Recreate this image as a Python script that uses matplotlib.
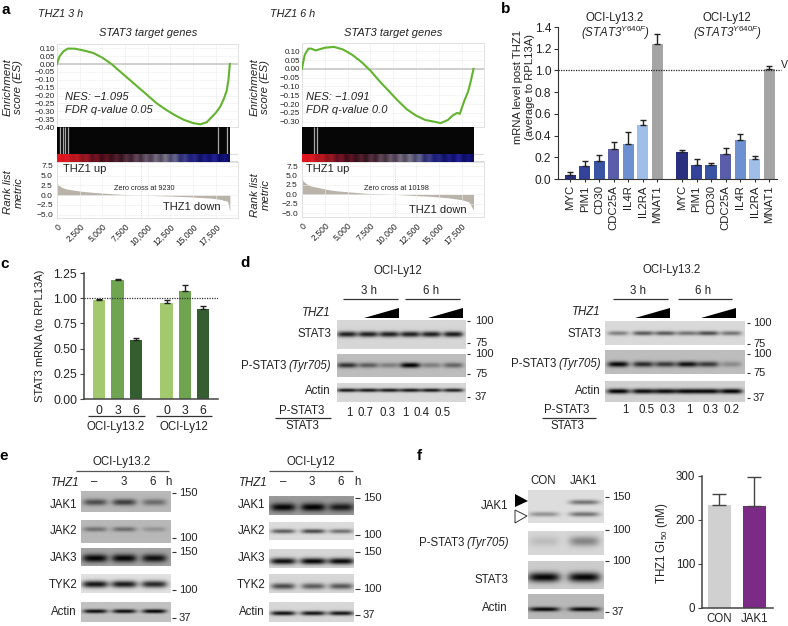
import numpy as np
import matplotlib
matplotlib.use("Agg")
import matplotlib.pyplot as plt
from matplotlib.colors import LinearSegmentedColormap
from matplotlib.patches import Polygon

plt.rcParams['font.family'] = ['Liberation Sans', 'DejaVu Sans']
plt.rcParams['mathtext.fontset'] = 'custom'
plt.rcParams['mathtext.rm'] = 'Liberation Sans'
plt.rcParams['mathtext.it'] = 'Liberation Sans:italic'
plt.rcParams['mathtext.bf'] = 'Liberation Sans:bold'

W, H = 788, 626
TXT = '#222222'
FS = 8.3

# panel a, enrichment curves
es_x_3h = [0, 100, 300, 700, 1200, 2000, 3000, 4000, 5000, 6000, 7000, 8000, 9000, 10000, 11000,
           12000, 13000, 14000, 15000, 15800, 16500, 17000, 17500, 18000, 18400, 18700, 18900, 19050]
es_y_3h = [0.0, 0.02, 0.05, 0.08, 0.098, 0.097, 0.085, 0.07, 0.04, 0.0, -0.05, -0.10, -0.15, -0.20, -0.25,
           -0.29, -0.325, -0.355, -0.375, -0.383, -0.37, -0.34, -0.31, -0.27, -0.22, -0.17, -0.10, 0.0]
es_x_6h = [0, 100, 300, 700, 1000, 1500, 2500, 3500, 4500, 5500, 6500, 7500, 8500, 9500, 10500,
           11500, 12500, 13500, 14500, 15200, 16000, 16500, 17000, 17300, 17800, 18200, 18500, 18800]
es_y_6h = [0.0, 0.03, 0.08, 0.115, 0.115, 0.105, 0.12, 0.125, 0.11, 0.08, 0.04, -0.01, -0.07, -0.125, -0.18,
           -0.23, -0.265, -0.29, -0.30, -0.308, -0.29, -0.265, -0.25, -0.255, -0.18, -0.13, -0.07, 0.0]
rank_x_3h = [0, 100, 500, 1000, 2000, 3000, 4000, 5000, 7000, 9230, 11000, 13000, 15000, 17000, 18000, 18800, 19050]
rank_y_3h = [3.6, 2.7, 2.0, 1.6, 1.2, 0.9, 0.7, 0.5, 0.2, 0.0, -0.15, -0.3, -0.5, -0.8, -1.1, -1.6, -4.2]
rank_x_6h = [0, 100, 500, 1000, 2000, 3000, 4000, 5000, 7000, 10198, 12000, 14000, 16000, 17500, 18300, 18800]
rank_y_6h = [5.0, 3.6, 2.8, 2.2, 1.7, 1.2, 0.9, 0.7, 0.3, 0.0, -0.25, -0.5, -0.9, -1.4, -2.0, -4.2]
hits_3h = [290, 620, 850, 1210, 17750, 18700]
hits_6h = [1270, 1640]
es_ticks_3h = [0.10, 0.05, 0.0, -0.05, -0.10, -0.15, -0.20, -0.25, -0.30, -0.35, -0.40]
es_ticks_6h = [0.10, 0.05, 0.0, -0.05, -0.10, -0.15, -0.20, -0.25, -0.30]
rank_ticks = [7.5, 5.0, 2.5, 0.0, -2.5, -5.0]
rank_xticks = [0, 2500, 5000, 7500, 10000, 12500, 15000, 17500]
strip_colors = ['#e8141e', '#d8141e', '#e01a24', '#b0141e', '#c0181e', '#8a1420', '#a01820', '#5a1020',
                '#7a1420', '#3c0c18', '#601420', '#34101c', '#5a2030', '#301420', '#5a3040', '#3a2030',
                '#66485a', '#40303e', '#6c5a6c', '#4a3c50', '#7a6c80', '#504a60', '#7c7888', '#48466c',
                '#6a6a90', '#2c2c70', '#40408c', '#1c1c78', '#28288c', '#10105c', '#1c1c8c', '#10106c',
                '#2424a0', '#0c0c60', '#141480', '#0c0c58']

# panel b
b_genes = ['MYC', 'PIM1', 'CD30', 'CDC25A', 'IL4R', 'IL2RA', 'MNAT1']
b_ly132 = [0.04, 0.12, 0.17, 0.28, 0.32, 0.50, 1.24]
b_ly132_err = [0.025, 0.045, 0.055, 0.06, 0.11, 0.04, 0.10]
b_ly12 = [0.25, 0.13, 0.13, 0.23, 0.36, 0.18, 1.01]
b_ly12_err = [0.02, 0.055, 0.015, 0.06, 0.05, 0.035, 0.03]
b_colors = ['#2b2f80', '#33439a', '#3a54a4', '#5a5ea8', '#6c90d0', '#9fbfe8', '#a4a4a4']

# panel c
c_times = ['0', '3', '6']
c_ly132 = [0.985, 1.18, 0.59]
c_ly132_err = [0.01, 0.015, 0.02]
c_ly12 = [0.955, 1.075, 0.895]
c_ly12_err = [0.025, 0.055, 0.03]
c_colors = ['#a3c96f', '#6fa550', '#355e30']
c_ticks = [0.0, 0.25, 0.5, 0.75, 1.0, 1.25]

# panel d, band strengths per lane and ratios
d_ly12_stat3 = [0.72, 0.72, 0.72, 0.72, 0.72, 0.74]
d_ly12_pstat3 = [0.55, 0.38, 0.25, 0.74, 0.25, 0.35]
d_ly12_actin = [0.76, 0.76, 0.76, 0.76, 0.76, 0.72]
d_ly132_stat3 = [0.35, 0.50, 0.50, 0.40, 0.55, 0.40]
d_ly132_pstat3 = [0.72, 0.58, 0.52, 0.68, 0.52, 0.20]
d_ly132_actin = [0.82, 0.78, 0.78, 0.80, 0.80, 0.82]
d_ly12_ratio = ['1', '0.7', '0.3', '1', '0.4', '0.5']
d_ly132_ratio = ['1', '0.5', '0.3', '1', '0.3', '0.2']

# panel e
e_ly132_jak1 = [0.42, 0.48, 0.30]
e_ly132_jak2 = [0.28, 0.30, 0.15]
e_ly132_jak3 = [0.62, 0.62, 0.58]
e_ly132_tyk2 = [0.80, 0.78, 0.72]
e_ly132_actin = [0.72, 0.72, 0.76]
e_ly12_jak1 = [0.58, 0.60, 0.50]
e_ly12_jak2 = [0.50, 0.58, 0.42]
e_ly12_jak3 = [0.78, 0.82, 0.80]
e_ly12_tyk2 = [0.55, 0.48, 0.50]
e_ly12_actin = [0.78, 0.76, 0.76]

# panel f
f_jak1_low = [0.30, 0.42]
f_jak1_high = [0.0, 0.42]
f_pstat3 = [0.10, 0.32]
f_stat3 = [0.78, 0.78]
f_actin = [0.70, 0.70]
f_names = ['CON', 'JAK1']
f_gi50 = [233, 232]
f_gi50_err = [27, 65]
f_colors = ['#d0d0d0', '#7b2a85']
f_ticks = [0, 100, 200, 300]

fig = plt.figure(figsize=(W / 100, H / 100), dpi=100, facecolor='white')


def px_axes(x0, y0, x1, y1):
    return fig.add_axes([x0 / W, 1 - y1 / H, (x1 - x0) / W, (y1 - y0) / H])


# everything typed in pixels goes on this overlay
ov = fig.add_axes([0, 0, 1, 1], zorder=10)
ov.set_xlim(0, W)
ov.set_ylim(H, 0)
ov.set_autoscale_on(False)
ov.axis('off')
ov.patch.set_alpha(0)


def t(x, y, s, size=FS, ha='center', va='center', **kw):
    kw.setdefault('color', TXT)
    ov.text(x, y, s, fontsize=size, ha=ha, va=va, **kw)


def hline(x0, x1, y, lw=0.9, color='#333333'):
    ov.plot([x0, x1], [y, y], color=color, lw=lw, solid_capstyle='butt')


def blot(x0, y0, x1, y1, bg, lanes, bands, half_w, half_h):
    # bands is a list of (strength per lane, y of that band)
    xx, yy = np.meshgrid(np.arange(x0, x1, 0.5), np.arange(y0, y1, 0.5))
    img = np.full(xx.shape, float(bg))
    for amps, band_y in bands:
        for cx, amp in zip(lanes, amps):
            prof = np.exp(-((xx - cx) / half_w) ** 4) * np.exp(-((yy - band_y) / half_h) ** 2)
            img = img - amp * prof
    ov.imshow(np.clip(img, 0, 1), extent=(x0, x1, y1, y0), cmap='gray', vmin=0, vmax=1,
              aspect='auto', interpolation='bilinear', zorder=1)


def markers(tick0, tick1, xtext, rows):
    for label, y in rows:
        hline(tick0, tick1, y, lw=0.8)
        t(xtext, y, label, 8, ha='left')


def pstat_label(xr, y):
    t(xr, y, '(Tyr705)', ha='right', style='italic')
    t(xr - 45, y, 'P-STAT3', ha='right')


def gsea(x0, x1, strip_end, es_top, es_bot, es_lim, es_x, es_y, es_ticks, hits,
         strip_y, rank_bot, rank_lim, rank_x, rank_y, zero_x):
    xmax = 19950
    ax = px_axes(x0, es_top, x1, es_bot)
    ax.plot(es_x, es_y, color='#62b42f', lw=1.5, zorder=3)
    ax.axhline(0, color='#c8c8c8', lw=1.2, zorder=2)
    ax.set_xlim(0, xmax)
    ax.set_ylim(*es_lim)
    ax.set_yticks(es_ticks)
    ax.set_yticklabels(['%.2f' % v if v >= 0 else '\u2212%.2f' % abs(v) for v in es_ticks],
                       fontsize=5.8, color=TXT)
    ax.set_xticks(rank_xticks)
    ax.set_xticklabels([])
    ax.tick_params(length=0, pad=1.5)
    ax.grid(color='#eeeeee', lw=0.4)
    for s in ax.spines.values():
        s.set_color('#dddddd')
        s.set_linewidth(0.6)

    # hit strip, black part with the gene hits and the coloured ranking below it
    st = px_axes(x0, es_bot, x1, strip_y)
    st.axis('off')
    st.axvspan(0, strip_end, 0, 1, facecolor='#060606', lw=0, zorder=0)
    st.vlines(hits, 0, 0.78, color='#a8a8a8', lw=0.9, zorder=1)
    cmap = LinearSegmentedColormap.from_list('rank', strip_colors, N=256)
    st.imshow(np.linspace(0, 1, 200)[None, :], extent=(0, strip_end, 1, 0.78), cmap=cmap,
              aspect='auto', zorder=2)
    st.set_xlim(0, xmax)
    st.set_ylim(1, 0)
    st.plot([strip_end, xmax], [0.78, 0.78], color='#cccccc', lw=0.5)
    st.plot([strip_end, xmax], [0.985, 0.985], color='#cccccc', lw=0.5)

    rk = px_axes(x0, strip_y, x1, rank_bot)
    rk.fill_between(rank_x, rank_y, 0, color='#b9b3a9', lw=0)
    rk.axvline(zero_x, color='#cccccc', lw=0.6, ls=':')
    rk.set_xlim(0, xmax)
    rk.set_ylim(*rank_lim)
    rk.set_yticks(rank_ticks)
    rk.set_yticklabels(['%.1f' % v if v >= 0 else '\u2212%.1f' % abs(v) for v in rank_ticks],
                       fontsize=6, color=TXT)
    rk.set_xticks(rank_xticks)
    rk.set_xticklabels(['{:,}'.format(v) for v in rank_xticks], rotation=45, ha='right',
                       rotation_mode='anchor', fontsize=6.2, color=TXT)
    rk.tick_params(length=0, pad=3)
    rk.grid(color='#eeeeee', lw=0.4)
    for s in rk.spines.values():
        s.set_color('#dddddd')
        s.set_linewidth(0.6)


gsea(57, 238, 19050, 44, 127, (-0.40, 0.127), es_x_3h, es_y_3h, es_ticks_3h, hits_3h,
     162, 218, (-5.9, 8.5), rank_x_3h, rank_y_3h, 9230)
gsea(302, 484, 18800, 43, 127, (-0.33, 0.147), es_x_6h, es_y_6h, es_ticks_6h, hits_6h,
     162, 217, (-6.0, 8.6), rank_x_6h, rank_y_6h, 10198)

t(1, 10, 'a', 11, ha='left', weight='bold', color='black')
t(38, 14, 'THZ1 3 h', 7.8, ha='left', style='italic')
t(148, 33, 'STAT3 target genes', 8, style='italic')
t(13, 87, 'Enrichment\nscore (ES)', 8.2, style='italic', rotation=90, linespacing=1.1)
t(13, 192, 'Rank list\nmetric', 8.2, style='italic', rotation=90, linespacing=1.1)
t(65, 97, 'NES: \u22121.095', 8, ha='left', style='italic')
t(65, 110, 'FDR q-value 0.05', 8, ha='left', style='italic')
t(63, 169, 'THZ1 up', 8, ha='left')
t(144, 189, 'Zero cross at 9230', 5.2)
t(163, 207, 'THZ1 down', 8, ha='left')

t(270, 14, 'THZ1 6 h', 7.8, ha='left', style='italic')
t(393, 33, 'STAT3 target genes', 8, style='italic')
t(260, 87, 'Enrichment\nscore (ES)', 8.2, style='italic', rotation=90, linespacing=1.1)
t(260, 195, 'Rank list\nmetric', 8.2, style='italic', rotation=90, linespacing=1.1)
t(306, 97, 'NES: \u22121.091', 8, ha='left', style='italic')
t(306, 110, 'FDR q-value 0.0', 8, ha='left', style='italic')
t(306, 169, 'THZ1 up', 8, ha='left')
t(396, 189, 'Zero cross at 10198', 5.2)
t(409, 210, 'THZ1 down', 8, ha='left')

# panel b
ax = px_axes(558, 27, 777, 179)
pos1 = np.arange(7)
pos2 = np.arange(7) + 7.7
ax.bar(pos1, b_ly132, 0.76, color=b_colors)
ax.bar(pos2, b_ly12, 0.76, color=b_colors)
for pos, vals, errs in [(pos1, b_ly132, b_ly132_err), (pos2, b_ly12, b_ly12_err)]:
    ax.errorbar(pos, vals, yerr=[np.zeros(7), errs], fmt='none', ecolor='#222222', elinewidth=1,
                capsize=2.5, capthick=1)
ax.set_xlim(-0.85, 14.25)
ax.set_ylim(0, 1.4)
ax.plot([-0.85, 14.55], [1, 1], color='#222222', lw=0.9, ls=(0, (1, 1)), clip_on=False, zorder=4)
ax.set_xticks(np.concatenate([pos1, pos2]))
ax.set_xticklabels(b_genes + b_genes, rotation=90, fontsize=8.2, color=TXT)
ax.set_yticks(np.arange(0, 1.41, 0.2))
ax.set_yticklabels(['%.1f' % v for v in np.arange(0, 1.41, 0.2)], fontsize=8.6, color=TXT)
ax.tick_params(length=3, width=0.8, color='#333333', pad=2)
ax.tick_params(axis='x', length=2.5)
ax.spines[['top', 'right']].set_visible(False)
ax.spines[['left', 'bottom']].set_color('#333333')

t(506, 9, 'b', 11, weight='bold', color='black')
t(524, 87, 'mRNA level post THZ1\n(average to RPL13A)', 8.1, rotation=90, linespacing=1.15)
t(615, 18, 'OCI-Ly13.2', FS)
t(615, 33, r'(STAT3$^{\mathit{Y640F}}$)', FS, style='italic')
t(727, 18, 'OCI-Ly12', FS)
t(727, 33, r'(STAT3$^{\mathit{Y640F}}$)', FS, style='italic')
t(780.5, 65, 'V', 7.6, ha='left')

# panel c
ax = px_axes(84, 273, 218, 399)
cpos1 = np.arange(3)
cpos2 = np.arange(3) + 3.7
ax.bar(cpos1, c_ly132, 0.68, color=c_colors)
ax.bar(cpos2, c_ly12, 0.68, color=c_colors)
for pos, vals, errs in [(cpos1, c_ly132, c_ly132_err), (cpos2, c_ly12, c_ly12_err)]:
    ax.errorbar(pos, vals, yerr=[np.zeros(3), errs], fmt='none', ecolor='#222222', elinewidth=1,
                capsize=2.5, capthick=1)
ax.axhline(1.0, color='#333333', lw=0.9, ls=(0, (1, 1)), zorder=4)
ax.set_xlim(-0.84, 6.52)
ax.set_ylim(0, 1.25)
ax.set_xticks(np.concatenate([cpos1, cpos2]))
ax.set_xticklabels(c_times + c_times, fontsize=8.8, color=TXT)
ax.set_yticks(c_ticks)
ax.set_yticklabels(['%.2f' % v for v in c_ticks], fontsize=8.8, color=TXT)
ax.tick_params(length=3, width=0.8, color='#444444', pad=2)
ax.tick_params(axis='x', length=0, pad=4)
ax.spines[['top', 'right']].set_visible(False)
ax.spines[['left', 'bottom']].set_color('#444444')
ax.spines[['left', 'bottom']].set_linewidth(1.1)

t(5, 264, 'c', 11, weight='bold', color='black')
t(40, 336, 'STAT3 mRNA (to RPL13A)', 8, rotation=90)
hline(88, 145, 416)
hline(156, 212, 416)
t(116, 427, 'OCI-Ly13.2')
t(184, 427, 'OCI-Ly12')


# panel d
def triangle(x0, x1, ytop, ybot):
    ov.add_patch(Polygon([(x0, ybot), (x1, ybot), (x1, ytop)], closed=True, color='black', lw=0))


t(245, 263, 'd', 11, weight='bold', color='black')
t(398, 271, 'OCI-Ly12')
t(369, 291, '3 h')
t(431, 291, '6 h')
hline(343, 398, 299)
hline(405, 460, 299)
t(331, 313, 'THZ1', ha='right', style='italic')
triangle(364, 399, 308, 318)
triangle(428, 463, 308, 318)
lanes = [347, 368, 389, 410, 431, 453]
blot(337, 320, 466, 349, 0.84, lanes, [(d_ly12_stat3, 334)], 10, 2.8)
blot(337, 354, 466, 377, 0.74, lanes, [(d_ly12_pstat3, 365)], 10, 2.6)
blot(337, 383, 466, 402, 0.84, lanes, [(d_ly12_actin, 390)], 10.5, 1.8)
t(331, 334, 'STAT3', ha='right')
pstat_label(331, 366)
t(331, 391, 'Actin', ha='right')
markers(467, 470, 475, [('100', 321), ('75', 343), ('100', 354), ('75', 374), ('37', 397)])
t(302, 411, 'P-STAT3')
hline(275, 331, 418)
t(302, 426, 'STAT3')
for x, s in zip([349, 366, 388, 405, 422, 443], d_ly12_ratio):
    t(x, 413, s)

t(672, 270, 'OCI-Ly13.2')
t(638, 291, '3 h')
t(703, 291, '6 h')
hline(613, 668, 299)
hline(678, 732, 299)
t(601, 312, 'THZ1', ha='right', style='italic')
triangle(635, 670, 308, 318)
triangle(701, 736, 308, 318)
lanes = [618, 643, 665, 687, 708, 731]
blot(605, 321, 745, 345, 0.85, lanes, [(d_ly132_stat3, 333)], 10.5, 2.2)
blot(605, 350, 745, 374, 0.74, lanes, [(d_ly132_pstat3, 364)], 10.5, 2.8)
blot(605, 381, 745, 402, 0.82, lanes, [(d_ly132_actin, 391)], 11.5, 2.5)
t(601, 334, 'STAT3', ha='right')
pstat_label(601, 364)
t(601, 391, 'Actin', ha='right')
markers(747, 750, 753, [('100', 323), ('75', 344), ('100', 354), ('75', 373), ('37', 398)])
t(567, 410, 'P-STAT3')
hline(542, 596, 418)
t(567, 426, 'STAT3')
for x, s in zip([625, 647, 668, 689, 711, 732], d_ly132_ratio):
    t(x, 410, s)

# panel e
t(4, 456, 'e', 11, weight='bold', color='black')
t(122, 462, 'OCI-Ly13.2')
hline(76, 169, 471, color='#555555')
t(51, 483, 'THZ1', ha='left', style='italic')
for x, s in zip([94, 124, 153, 168], ['\u2013', '3', '6', 'h']):
    t(x, 482, s)
lanes = [95, 124, 154]
blot(81, 491, 171, 512, 0.72, lanes, [(e_ly132_jak1, 502)], 12, 3.2)
blot(81, 520, 171, 543, 0.72, lanes, [(e_ly132_jak2, 529)], 12, 2.4)
blot(81, 548, 171, 566, 0.64, lanes, [(e_ly132_jak3, 558)], 12.5, 4.0)
blot(81, 574, 171, 593, 0.88, lanes, [(e_ly132_tyk2, 584)], 13, 3.5)
blot(81, 602, 171, 622, 0.76, lanes, [(e_ly132_actin, 611)], 12, 2.0)
for s, y in zip(['JAK1', 'JAK2', 'JAK3', 'TYK2', 'Actin'], [505, 531, 558, 585, 612]):
    t(77, y, s, ha='right')
markers(172, 176, 179, [('150', 493), ('100', 538), ('150', 552), ('100', 590), ('37', 618)])

t(311, 462, 'OCI-Ly12')
hline(269, 353, 471, color='#555555')
t(239, 483, 'THZ1', ha='left', style='italic')
for x, s in zip([283, 312, 341, 357], ['\u2013', '3', '6', 'h']):
    t(x, 482, s)
lanes = [283, 313, 341]
blot(269, 496, 354, 515, 0.60, lanes, [(e_ly12_jak1, 507)], 12.5, 4.0)
blot(269, 522, 354, 540, 0.86, lanes, [(e_ly12_jak2, 531)], 12, 2.2)
blot(269, 549, 354, 568, 0.84, lanes, [(e_ly12_jak3, 561)], 13, 3.2)
blot(269, 574, 354, 593, 0.84, lanes, [(e_ly12_tyk2, 586)], 12, 3.0)
blot(269, 602, 354, 622, 0.84, lanes, [(e_ly12_actin, 613)], 12.5, 2.2)
for s, y in zip(['JAK1', 'JAK2', 'JAK3', 'TYK2', 'Actin'], [505, 531, 558, 585, 612]):
    t(265, y, s, ha='right')
markers(355, 360, 363, [('150', 498), ('100', 535), ('150', 552), ('100', 589), ('37', 615)])

# panel f
t(419, 456, 'f', 11, weight='bold', color='black')
t(543, 481, 'CON')
t(584, 481, 'JAK1')
lanes = [544, 584]
blot(528, 490, 604, 523, 0.87, lanes, [(f_jak1_low, 514), (f_jak1_high, 502)], 15, 2.4)
blot(528, 531, 604, 555, 0.84, lanes, [(f_pstat3, 541)], 15, 5.0)
blot(528, 561, 604, 589, 0.80, lanes, [(f_stat3, 577)], 16, 4.8)
blot(528, 594, 604, 619, 0.72, lanes, [(f_actin, 609)], 15.5, 2.2)
t(508, 506, 'JAK1', ha='right')
pstat_label(509, 543)
t(508, 580, 'STAT3', ha='right')
t(508, 608, 'Actin', ha='right')
markers(605, 609, 612, [('150', 497), ('100', 530), ('100', 561), ('37', 612)])
ov.add_patch(Polygon([(515, 494), (515, 507), (528, 501)], closed=True, color='black', lw=0))
ov.add_patch(Polygon([(515, 510), (515, 523), (527, 516)], closed=True, facecolor='white',
                     edgecolor='#333333', lw=0.7))

ax = px_axes(702, 476, 773, 608)
fpos = np.arange(2)
ax.bar(fpos, f_gi50, 0.66, color=f_colors)
ax.errorbar(fpos, f_gi50, yerr=[np.zeros(2), f_gi50_err], fmt='none', ecolor='#444444', elinewidth=1,
            capsize=5, capthick=1)
ax.set_xlim(-0.49, 1.54)
ax.set_ylim(0, 300)
ax.set_xticks(fpos)
ax.set_xticklabels(f_names, fontsize=FS, color=TXT)
ax.set_yticks(f_ticks)
ax.set_yticklabels([str(v) for v in f_ticks], fontsize=FS, color=TXT)
ax.tick_params(length=3, width=0.8, color='#444444', pad=2)
ax.tick_params(axis='x', length=0, pad=3.5)
ax.spines[['top', 'right']].set_visible(False)
ax.spines[['left', 'bottom']].set_color('#444444')
ax.spines[['left', 'bottom']].set_linewidth(1.1)
t(662, 543, 'THZ1 GI$_{50}$ (nM)', FS, rotation=90)

fig.savefig('out.png', dpi=100)
